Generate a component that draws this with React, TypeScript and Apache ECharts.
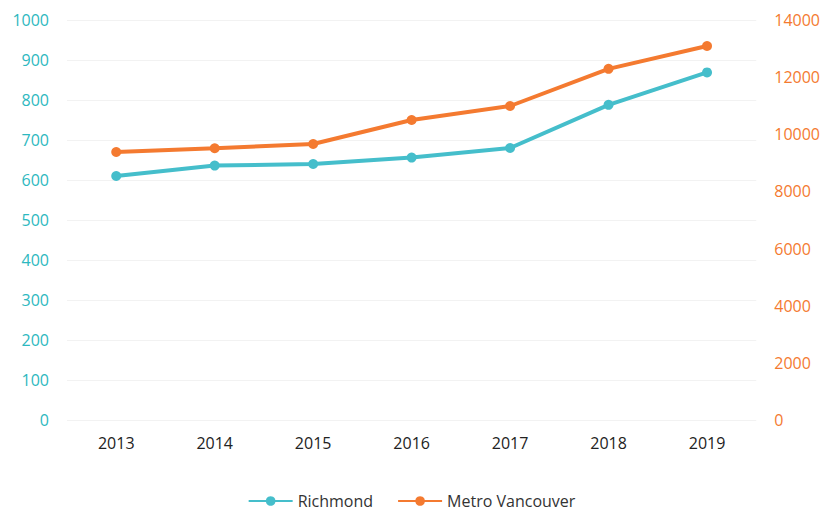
import React, { useEffect, useRef } from "react";
import * as echarts from "echarts";

const years = ["2013", "2014", "2015", "2016", "2017", "2018", "2019"];
const richmond = [610, 636, 640, 656, 680, 788, 869];
const metroVancouver = [9380, 9510, 9660, 10500, 10990, 12290, 13090];

const TEAL = "#45BECB";
const ORANGE = "#F47A30";
const FONT = "Open Sans";

export default function App() {
  const ref = useRef<HTMLDivElement>(null);
  useEffect(() => {
    if (!ref.current) return;
    const chart = echarts.init(ref.current, null, { renderer: "svg" });
    const plain = (v: number) => String(v);
    chart.setOption({
      animation: false,
      textStyle: { fontFamily: FONT },
      grid: { left: 67, right: 66, top: 20, bottom: 96, containLabel: false },
      legend: {
        top: 493,
        left: "center",
        padding: 0,
        itemWidth: 44,
        itemHeight: 12,
        itemGap: 24,
        textStyle: { fontSize: 16, color: "#333", fontFamily: FONT },
        data: ["Richmond", "Metro Vancouver"],
      },
      xAxis: {
        type: "category",
        data: years,
        boundaryGap: true,
        axisLine: { show: false },
        axisTick: { show: false },
        axisLabel: { color: "#222", fontSize: 16, margin: 15, fontFamily: FONT },
      },
      yAxis: [
        {
          type: "value",
          min: 0,
          max: 1000,
          interval: 100,
          axisLine: { show: false },
          axisTick: { show: false },
          axisLabel: { color: "#2DB8C0", fontSize: 16, margin: 18, fontFamily: FONT, formatter: plain },
          splitLine: { lineStyle: { color: "#f2f2f2" } },
        },
        {
          type: "value",
          min: 0,
          max: 14000,
          interval: 2000,
          axisLine: { show: false },
          axisTick: { show: false },
          axisLabel: { color: ORANGE, fontSize: 16, margin: 18, fontFamily: FONT, formatter: plain },
          splitLine: { show: false },
        },
      ],
      series: [
        {
          name: "Richmond",
          type: "line",
          yAxisIndex: 0,
          data: richmond,
          symbol: "circle",
          symbolSize: 10,
          lineStyle: { color: TEAL, width: 4 },
          itemStyle: { color: TEAL },
        },
        {
          name: "Metro Vancouver",
          type: "line",
          yAxisIndex: 1,
          data: metroVancouver,
          symbol: "circle",
          symbolSize: 10,
          lineStyle: { color: ORANGE, width: 4 },
          itemStyle: { color: ORANGE },
        },
      ],
    });
    return () => chart.dispose();
  }, []);
  return <div ref={ref} style={{ width: 823, height: 516, position: "absolute", left: 0, top: 0 }} />;
}
